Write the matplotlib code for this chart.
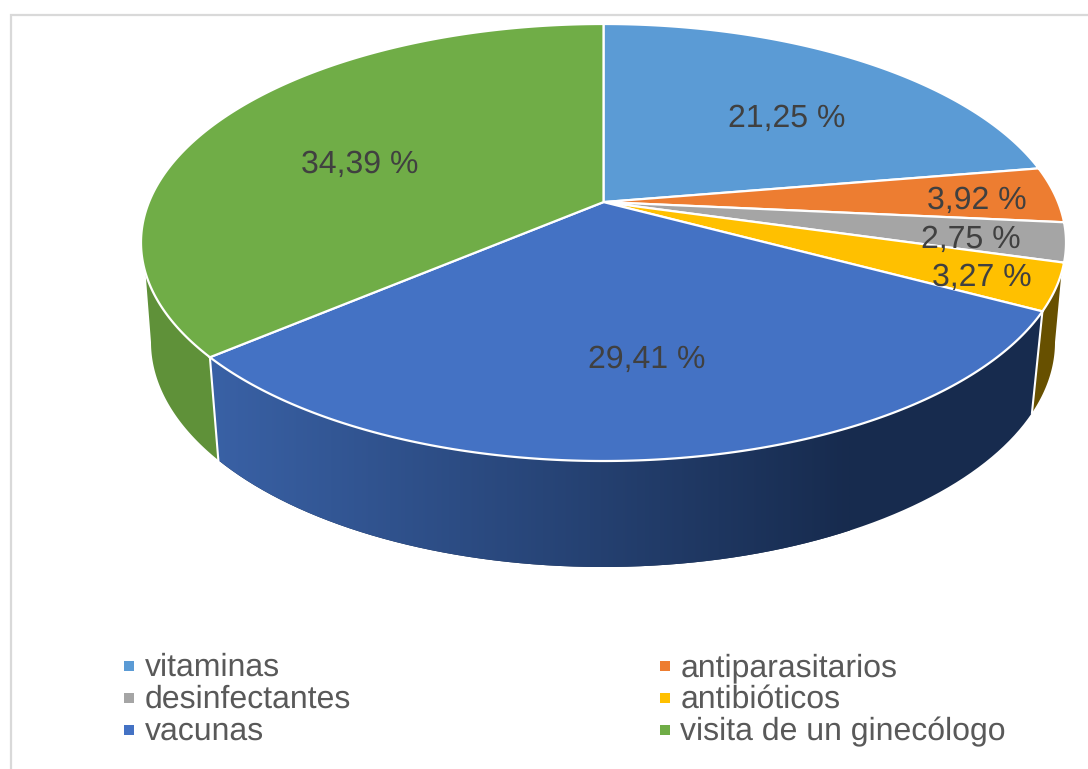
import numpy as np
import matplotlib
matplotlib.use("Agg")
import matplotlib.pyplot as plt
from matplotlib.patches import Polygon

plt.rcParams['font.family'] = ['Liberation Sans', 'DejaVu Sans']
plt.rcParams['text.hinting'] = 'none'

# chart data
categories = ["vitaminas", "antiparasitarios", "desinfectantes", "antibióticos", "vacunas", "visita de un ginecólogo"]
values = [21.25, 3.92, 2.75, 3.27, 29.41, 34.39]
value_labels = ["21,25 %", "3,92 %", "2,75 %", "3,27 %", "29,41 %", "34,39 %"]
colors = ["#5B9BD5", "#ED7D31", "#A5A5A5", "#FFC000", "#4472C4", "#70AD47"]

# layout, in pixels of the 1088x769 picture
W, H = 1088, 769
top_ell = (603.5, 242.5, 462.5, 218.5)
bottom_ell = (603, 342, 452, 225)
tilt = 0.185   # how far the pie centre sits above the middle of the ellipse
label_xy = [(787, 115.5), (976.5, 197.5), (970.5, 236.5), (982, 274.5), (647, 356), (360, 161)]
legend_xy = [(123.5, 676), (659.5, 676), (123.5, 708), (659.5, 708), (123.5, 740), (659.5, 740)]

# wedge limits in degrees, clockwise from the top
edges = np.concatenate([[0], np.cumsum(values)]) / np.sum(values) * 360


def project(deg, ell):
    # point of the pie rim in perspective
    a = np.radians(deg)
    u, v = np.sin(a), np.cos(a)
    x = u * np.sqrt(1 - tilt ** 2) / (1 + tilt * v)
    y = (v + tilt) / (1 + tilt * v)
    return np.column_stack([ell[0] + ell[2] * x, ell[1] - ell[3] * y])


def side(a0, a1, b0, b1):
    # outline of a side wall: top rim a0-a1, then bottom rim b1-b0
    top = project(np.linspace(a0, a1, 80), top_ell)
    bot = project(np.linspace(b1, b0, 80), bottom_ell)
    return np.vstack([top, bot])


fig = plt.figure(figsize=(W / 100, H / 100), dpi=100)
ax = fig.add_axes([0, 0, 1, 1])
ax.axis("off")

# frame of the chart area
ax.plot([11, 11, W], [H, 15, 15], color="#D9D9D9", lw=1.6, solid_joinstyle="miter")

# side walls, back ones first
green = Polygon(side(edges[5], 251.5, edges[5], 259.3), fc="#5F9139", ec="none")
ax.add_patch(green)
yellow = Polygon(side(108.5, edges[4], 100.7, edges[4]), fc="#675000", ec="none")
ax.add_patch(yellow)

blue_pts = side(edges[4], edges[5], edges[4], edges[5])
blue = Polygon(blue_pts, fc="none", ec="none")
ax.add_patch(blue)
grad_x = np.linspace(0, 1, 256)
grad = np.zeros((1, 256, 3))
dark = np.array(matplotlib.colors.to_rgb("#172B4E"))
light = np.array(matplotlib.colors.to_rgb("#3A62A7"))
grad[0] = light + (dark - light) * grad_x[:, None]
im = ax.imshow(grad, extent=(200, 850, 580, 300), aspect="auto", zorder=1)
im.set_clip_path(blue)
flat = Polygon(blue_pts, fc="#172B4E", ec="none", zorder=0.9)
ax.add_patch(flat)

# white joints between the walls
for deg in [edges[4], edges[5]]:
    ax.plot(*np.vstack([project(deg, top_ell), project(deg, bottom_ell)]).T,
            color="white", lw=1.5, zorder=2)

# top of the pie
apex = (top_ell[0], top_ell[1] - top_ell[3] * tilt)
for i, c in enumerate(colors):
    rim = project(np.linspace(edges[i], edges[i + 1], 200), top_ell)
    ax.add_patch(Polygon(np.vstack([[apex], rim]), fc=c, ec="white", lw=1.6, zorder=3))

for (x, y), t in zip(label_xy, value_labels):
    ax.text(x, y, t, color="#404040", fontsize=23, ha="center", va="center_baseline", zorder=4)

# legend
for (x, y), c, t in zip(legend_xy, colors, categories):
    ax.plot(x + 5.5, y - 10.5, marker="s", ms=7.8, color=c, mew=0, ls="none")
    ax.text(x + 21, y, t, color="#595959", fontsize=23, ha="left", va="baseline")

ax.set_xlim(0, W)
ax.set_ylim(H, 0)
fig.savefig("out.png", dpi=100)
